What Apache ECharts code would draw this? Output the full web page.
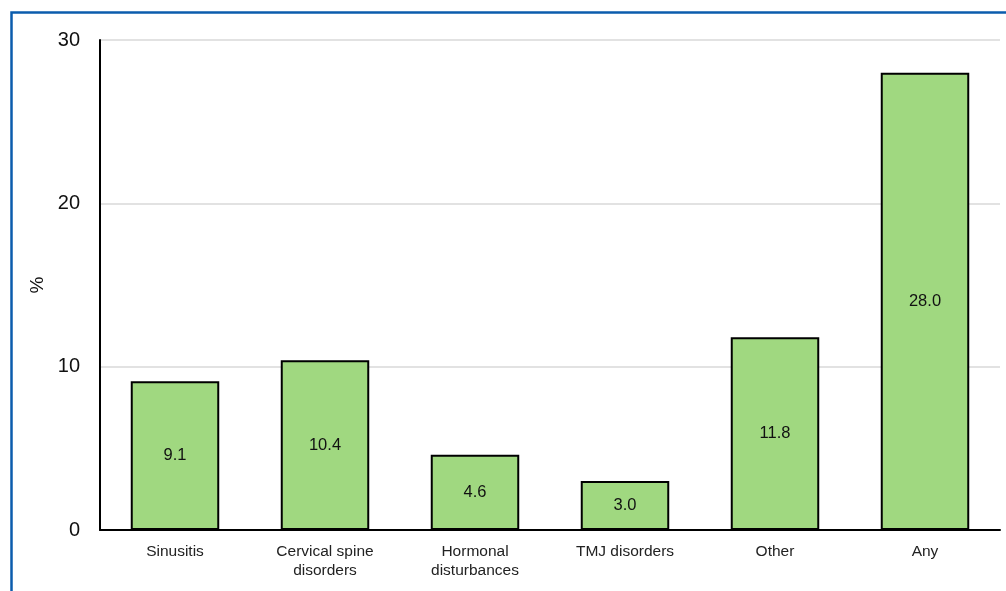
<!DOCTYPE html>
<html>
<head>
<meta charset="utf-8">
<script src="https://cdn.jsdelivr.net/npm/echarts@6/dist/echarts.min.js"></script>
<style>
  html, body { margin: 0; padding: 0; background: #ffffff; }
  #chart { width: 1006px; height: 591px; }
</style>
</head>
<body>
<div id="chart"></div>
<script>
// Prevalence of comorbid conditions (%)
const categories = ['Sinusitis', 'Cervical spine\ndisorders', 'Hormonal\ndisturbances', 'TMJ disorders', 'Other', 'Any'];
const values = [9.1, 10.4, 4.6, 3.0, 11.8, 28.0];
const yTicks = [0, 10, 20, 30];

const chart = echarts.init(document.getElementById('chart'), null, { renderer: 'canvas' });

chart.setOption({
  animation: false,
  backgroundColor: '#ffffff',
  textStyle: { fontFamily: 'Liberation Sans, Arial, sans-serif' },
  graphic: [{
    type: 'rect',
    left: 9, top: 10,
    shape: { width: 1010, height: 600 },
    style: { fill: 'none', stroke: '#0b5cad', lineWidth: 2.5 },
    silent: true
  }],
  grid: { left: 100, right: 6, top: 40, bottom: 61, containLabel: false },
  xAxis: {
    type: 'category',
    data: categories,
    axisLine: { show: true, lineStyle: { color: '#000000', width: 2 } },
    axisTick: { show: false },
    axisLabel: { color: '#222222', fontSize: 15.5, lineHeight: 19, margin: 12, interval: 0 }
  },
  yAxis: {
    type: 'value',
    min: yTicks[0],
    max: yTicks[yTicks.length - 1],
    interval: 10,
    name: '%',
    nameLocation: 'middle',
    nameGap: 52,
    nameRotate: 90,
    nameTextStyle: { color: '#111111', fontSize: 19 },
    axisLine: { show: true, lineStyle: { color: '#000000', width: 2 } },
    axisTick: { show: false },
    axisLabel: { color: '#111111', fontSize: 20, margin: 20 },
    splitLine: { show: true, lineStyle: { color: '#d9d9d9', width: 1.5 } }
  },
  series: [{
    type: 'bar',
    data: values,
    barWidth: '59%',
    itemStyle: { color: '#a0d880', borderColor: '#000000', borderWidth: 2 },
    label: {
      show: true,
      position: 'inside',
      color: '#111111',
      fontSize: 16.5,
      formatter: p => p.value.toFixed(1)
    }
  }]
});
</script>
</body>
</html>
